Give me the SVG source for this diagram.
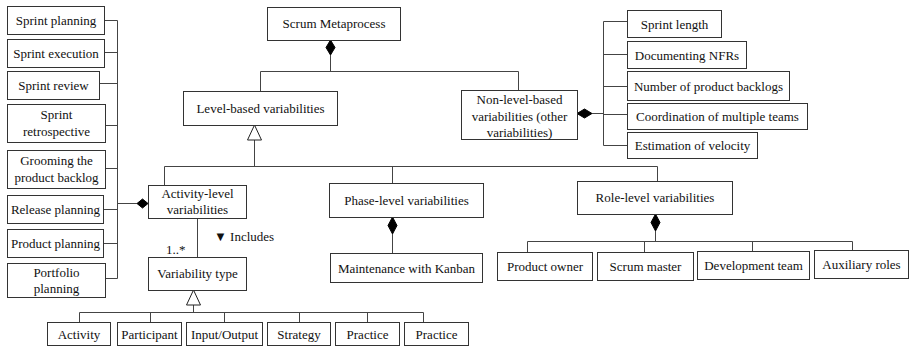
<svg xmlns="http://www.w3.org/2000/svg" width="910" height="349" viewBox="0 0 910 349">
  <defs>
    <style>
      .box { fill: #ffffff; stroke: #333333; stroke-width: 1; }
      .ln { fill: none; stroke: #444444; stroke-width: 1; }
      .dia { fill: #000000; stroke: #000000; stroke-width: 1; }
      .tri { fill: #ffffff; stroke: #222222; stroke-width: 1; }
    </style>
  </defs>
  <rect width="910" height="349" fill="#ffffff"/>
  <g id="connectors">
    <path class="ln" d="M330.5 55 V71.5 M260.5 91 V71.5 H518.5 V90"/>
    <polygon class="dia" points="330.5,40 335,47.5 330.5,55 326,47.5"/>
    <path class="ln" d="M254.5 140 V166.5 M164.5 185 V166.5 H657.5 V181 M392.5 166.5 V183"/>
    <polygon class="tri" points="254.5,125 261.5,140 247.5,140"/>
    <path class="ln" d="M104 20.5 H117.5 M104 52.5 H117.5 M99 83.5 H117.5 M105 125.5 H117.5 M105 168.5 H117.5 M103 209.5 H117.5 M103 243.5 H117.5 M105 278.5 H117.5 M117.5 20.5 V278.5 M117.5 203.5 H137"/>
    <polygon class="dia" points="137,203.5 142.5,199 148,203.5 142.5,208"/>
    <path class="ln" d="M197.5 218 V257"/>
    <path class="ln" d="M193.5 305 V312.5 M79.5 323 V312.5 H423.5 V323 M150.5 312.5 V323 M224.5 312.5 V323 M299.5 312.5 V323 M367.5 312.5 V323"/>
    <polygon class="tri" points="193.5,290 200.5,305 186.5,305"/>
    <path class="ln" d="M392.5 234 V253"/>
    <polygon class="dia" points="392.5,217 397,225.5 392.5,234 388,225.5"/>
    <path class="ln" d="M655.5 231 V241.5 M527.5 252 V241.5 H852.5 V250 M644.5 241.5 V252 M752.5 241.5 V251"/>
    <polygon class="dia" points="655.5,214 660,222.5 655.5,231 651,222.5"/>
    <path class="ln" d="M592 113.5 H603.5 M603.5 21.5 V145.5 M603.5 21.5 H627 M603.5 54.5 H627 M603.5 86.5 H627 M603.5 114.5 H627 M603.5 145.5 H627"/>
    <polygon class="dia" points="577,113.5 584.5,109 592,113.5 584.5,118"/>
  </g>
  <g id="scrum-metaprocess">
    <rect class="box" x="267.5" y="7.5" width="133" height="33"/>
    <text font-family="Liberation Serif" font-size="13" fill="#111" text-anchor="middle" x="334" y="28">Scrum Metaprocess</text>
  </g>
  <g id="level-based">
    <rect class="box" x="183.5" y="91.5" width="154" height="34"/>
    <text font-family="Liberation Serif" font-size="13" fill="#111" text-anchor="middle" x="260.5" y="113">Level-based variabilities</text>
  </g>
  <g id="non-level-based">
    <rect class="box" x="461.5" y="90.5" width="116" height="49"/>
    <text font-family="Liberation Serif" font-size="13" fill="#111" text-anchor="middle" x="519.5" y="104">Non-level-based</text>
    <text font-family="Liberation Serif" font-size="13" fill="#111" text-anchor="middle" x="519.5" y="121">variabilities (other</text>
    <text font-family="Liberation Serif" font-size="13" fill="#111" text-anchor="middle" x="519.5" y="137">variabilities)</text>
  </g>
  <g id="sprint-length">
    <rect class="box" x="627.5" y="10.5" width="94" height="27"/>
    <text font-family="Liberation Serif" font-size="13" fill="#111" text-anchor="middle" x="674.5" y="28.5">Sprint length</text>
  </g>
  <g id="documenting-nfrs">
    <rect class="box" x="627.5" y="41.5" width="119" height="27"/>
    <text font-family="Liberation Serif" font-size="13" fill="#111" text-anchor="middle" x="687" y="59.5">Documenting NFRs</text>
  </g>
  <g id="number-of-backlogs">
    <rect class="box" x="627.5" y="71.5" width="162" height="29"/>
    <text font-family="Liberation Serif" font-size="13" fill="#111" text-anchor="middle" x="708.5" y="90.5">Number of product backlogs</text>
  </g>
  <g id="coordination">
    <rect class="box" x="627.5" y="103.5" width="180" height="26"/>
    <text font-family="Liberation Serif" font-size="13" fill="#111" text-anchor="middle" x="717.5" y="121">Coordination of multiple teams</text>
  </g>
  <g id="estimation-velocity">
    <rect class="box" x="627.5" y="132.5" width="130" height="26"/>
    <text font-family="Liberation Serif" font-size="13" fill="#111" text-anchor="middle" x="692.5" y="150">Estimation of velocity</text>
  </g>
  <g id="sprint-planning">
    <rect class="box" x="7.5" y="6.5" width="97" height="28"/>
    <text font-family="Liberation Serif" font-size="13" fill="#111" text-anchor="middle" x="56" y="25">Sprint planning</text>
  </g>
  <g id="sprint-execution">
    <rect class="box" x="7.5" y="39.5" width="97" height="28"/>
    <text font-family="Liberation Serif" font-size="13" fill="#111" text-anchor="middle" x="56" y="58">Sprint execution</text>
  </g>
  <g id="sprint-review">
    <rect class="box" x="7.5" y="71.5" width="92" height="28"/>
    <text font-family="Liberation Serif" font-size="13" fill="#111" text-anchor="middle" x="53.5" y="90">Sprint review</text>
  </g>
  <g id="sprint-retrospective">
    <rect class="box" x="7.5" y="104.5" width="98" height="38"/>
    <text font-family="Liberation Serif" font-size="13" fill="#111" text-anchor="middle" x="56.5" y="119">Sprint</text>
    <text font-family="Liberation Serif" font-size="13" fill="#111" text-anchor="middle" x="56.5" y="136">retrospective</text>
  </g>
  <g id="grooming-backlog">
    <rect class="box" x="7.5" y="150.5" width="98" height="38"/>
    <text font-family="Liberation Serif" font-size="13" fill="#111" text-anchor="middle" x="56.5" y="165">Grooming the</text>
    <text font-family="Liberation Serif" font-size="13" fill="#111" text-anchor="middle" x="56.5" y="182">product backlog</text>
  </g>
  <g id="release-planning">
    <rect class="box" x="7.5" y="195.5" width="96" height="28"/>
    <text font-family="Liberation Serif" font-size="13" fill="#111" text-anchor="middle" x="55.5" y="214">Release planning</text>
  </g>
  <g id="product-planning">
    <rect class="box" x="7.5" y="229.5" width="96" height="28"/>
    <text font-family="Liberation Serif" font-size="13" fill="#111" text-anchor="middle" x="55.5" y="248">Product planning</text>
  </g>
  <g id="portfolio-planning">
    <rect class="box" x="7.5" y="263.5" width="98" height="34"/>
    <text font-family="Liberation Serif" font-size="13" fill="#111" text-anchor="middle" x="56.5" y="277">Portfolio</text>
    <text font-family="Liberation Serif" font-size="13" fill="#111" text-anchor="middle" x="56.5" y="293">planning</text>
  </g>
  <g id="activity-level">
    <rect class="box" x="148.5" y="185.5" width="98" height="33"/>
    <text font-family="Liberation Serif" font-size="13" fill="#111" text-anchor="middle" x="197.5" y="198">Activity-level</text>
    <text font-family="Liberation Serif" font-size="13" fill="#111" text-anchor="middle" x="197.5" y="214">variabilities</text>
  </g>
  <g id="includes-label">
    <text font-family="Liberation Serif" font-size="13" fill="#111" x="214" y="241">▼ Includes</text>
    <text font-family="Liberation Serif" font-size="13" fill="#111" x="166" y="254">1..*</text>
  </g>
  <g id="variability-type">
    <rect class="box" x="148.5" y="257.5" width="98" height="33"/>
    <text font-family="Liberation Serif" font-size="13" fill="#111" text-anchor="middle" x="197.5" y="278">Variability type</text>
  </g>
  <g id="vt-activity">
    <rect class="box" x="47.5" y="322.5" width="63" height="23"/>
    <text font-family="Liberation Serif" font-size="13" fill="#111" text-anchor="middle" x="79" y="339">Activity</text>
  </g>
  <g id="vt-participant">
    <rect class="box" x="117.5" y="322.5" width="64" height="23"/>
    <text font-family="Liberation Serif" font-size="13" fill="#111" text-anchor="middle" x="149.5" y="339">Participant</text>
  </g>
  <g id="vt-input-output">
    <rect class="box" x="186.5" y="322.5" width="76" height="23"/>
    <text font-family="Liberation Serif" font-size="13" fill="#111" text-anchor="middle" x="224.5" y="339">Input/Output</text>
  </g>
  <g id="vt-strategy">
    <rect class="box" x="267.5" y="322.5" width="63" height="23"/>
    <text font-family="Liberation Serif" font-size="13" fill="#111" text-anchor="middle" x="299" y="339">Strategy</text>
  </g>
  <g id="vt-practice-1">
    <rect class="box" x="335.5" y="322.5" width="64" height="23"/>
    <text font-family="Liberation Serif" font-size="13" fill="#111" text-anchor="middle" x="367.5" y="339">Practice</text>
  </g>
  <g id="vt-practice-2">
    <rect class="box" x="404.5" y="322.5" width="64" height="23"/>
    <text font-family="Liberation Serif" font-size="13" fill="#111" text-anchor="middle" x="436.5" y="339">Practice</text>
  </g>
  <g id="phase-level">
    <rect class="box" x="329.5" y="183.5" width="154" height="34"/>
    <text font-family="Liberation Serif" font-size="13" fill="#111" text-anchor="middle" x="406.5" y="205">Phase-level variabilities</text>
  </g>
  <g id="maintenance-kanban">
    <rect class="box" x="330.5" y="253.5" width="152" height="29"/>
    <text font-family="Liberation Serif" font-size="13" fill="#111" text-anchor="middle" x="406.5" y="272.5">Maintenance with Kanban</text>
  </g>
  <g id="role-level">
    <rect class="box" x="577.5" y="181.5" width="155" height="33"/>
    <text font-family="Liberation Serif" font-size="13" fill="#111" text-anchor="middle" x="655" y="202">Role-level variabilities</text>
  </g>
  <g id="product-owner">
    <rect class="box" x="497.5" y="252.5" width="95" height="28"/>
    <text font-family="Liberation Serif" font-size="13" fill="#111" text-anchor="middle" x="545" y="271">Product owner</text>
  </g>
  <g id="scrum-master">
    <rect class="box" x="597.5" y="252.5" width="96" height="28"/>
    <text font-family="Liberation Serif" font-size="13" fill="#111" text-anchor="middle" x="645.5" y="271">Scrum master</text>
  </g>
  <g id="development-team">
    <rect class="box" x="697.5" y="251.5" width="112" height="28"/>
    <text font-family="Liberation Serif" font-size="13" fill="#111" text-anchor="middle" x="753.5" y="270">Development team</text>
  </g>
  <g id="auxiliary-roles">
    <rect class="box" x="814.5" y="250.5" width="94" height="28"/>
    <text font-family="Liberation Serif" font-size="13" fill="#111" text-anchor="middle" x="861.5" y="269">Auxiliary roles</text>
  </g>
</svg>
